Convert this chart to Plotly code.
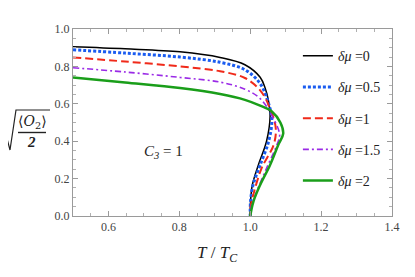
import plotly.graph_objects as go

# ---- data ----
T_mu0 = [0.50, 0.647, 0.802, 0.915, 0.985, 1.028, 1.042, 1.051, 1.056, 1.046, 1.023, 1.006, 1.001, 1.000]
y_mu0 = [0.905, 0.894, 0.878, 0.848, 0.809, 0.742, 0.685, 0.621, 0.532, 0.40, 0.273, 0.166, 0.08, 0.0]

T_mu05 = [0.50, 0.647, 0.802, 0.915, 0.985, 1.028, 1.052, 1.061, 1.052, 1.028, 1.008, 1.001, 1.000]
y_mu05 = [0.889, 0.871, 0.850, 0.822, 0.782, 0.708, 0.60, 0.514, 0.40, 0.273, 0.166, 0.08, 0.0]

T_mu1 = [0.50, 0.647, 0.802, 0.915, 0.985, 1.028, 1.055, 1.072, 1.066, 1.032, 1.011, 1.002, 1.000]
y_mu1 = [0.848, 0.826, 0.800, 0.774, 0.738, 0.672, 0.58, 0.47, 0.38, 0.255, 0.13, 0.06, 0.0]

T_mu15 = [0.50, 0.647, 0.802, 0.915, 0.985, 1.028, 1.060, 1.083, 1.075, 1.046, 1.018, 1.003, 1.000]
y_mu15 = [0.793, 0.770, 0.741, 0.716, 0.678, 0.628, 0.54, 0.434, 0.38, 0.255, 0.13, 0.05, 0.0]

T_mu2 = [0.50, 0.647, 0.802, 0.915, 0.985, 1.028, 1.061, 1.085, 1.093, 1.079, 1.056, 1.028, 1.009, 1.000]
y_mu2 = [0.741, 0.714, 0.684, 0.652, 0.621, 0.590, 0.559, 0.50, 0.44, 0.38, 0.273, 0.166, 0.077, 0.0]

labels = ["<i>δμ</i> =0", "<i>δμ</i> =0.5", "<i>δμ</i> =1", "<i>δμ</i> =1.5", "<i>δμ</i> =2"]
x_ticks = [0.6, 0.8, 1.0, 1.2, 1.4]
y_ticks = [0.0, 0.2, 0.4, 0.6, 0.8, 1.0]

series = [(T_mu0, y_mu0), (T_mu05, y_mu05), (T_mu1, y_mu1), (T_mu15, y_mu15), (T_mu2, y_mu2)]
styles = [
    dict(color="black", width=1.5, dash="solid"),
    dict(color="#1a5cf0", width=3, dash="3px,2px"),
    dict(color="#f02a1a", width=2, dash="8px,4px"),
    dict(color="#9a2ae6", width=1.6, dash="6px,3px,2px,3px"),
    dict(color="#1a9e1a", width=2.5, dash="solid"),
]

# the page body has an 8px margin: shift everything up/left by 8px
OFF = 8
W, H = 415 - OFF, 277 - OFF
L, R, Tm, B = 73 - OFF, 23, 29 - OFF, 61
pw, ph = W - L - R, H - Tm - B


def px2paper(px, py):
    # px, py are coordinates in the 415x277 reference picture
    return (px - OFF - L) / pw, (H - B - (py - OFF)) / ph


SERIF = "Liberation Serif, Times New Roman, serif"

fig = go.Figure()
for i, ((xs, ys), st, lab) in enumerate(zip(series, styles, labels)):
    fig.add_trace(go.Scatter(
        x=xs, y=ys, mode="lines", name=lab,
        line=dict(color=st["color"], width=st["width"], dash=st["dash"], shape="spline", smoothing=1.0),
        legendgroup=str(i),
    ))

axis_common = dict(
    showline=True, linecolor="#9a9a9a", linewidth=1, mirror="ticks",
    ticks="inside", ticklen=5, tickcolor="#9a9a9a", tickwidth=1,
    showgrid=False, zeroline=False,
    tickfont=dict(family=SERIF, size=12, color="#444"),
    minor=dict(ticks="inside", ticklen=3, tickcolor="#b0b0b0", dtick=0.05, showgrid=False),
    tickformat=".1f",
)

fig.update_layout(
    width=W, height=H,
    margin=dict(l=L, r=R, t=Tm, b=B),
    paper_bgcolor="white", plot_bgcolor="white",
    font=dict(family=SERIF, size=13, color="#222"),
    xaxis=dict(range=[0.5, 1.4], tickvals=x_ticks, **axis_common),
    yaxis=dict(range=[0, 1], tickvals=y_ticks, **axis_common),
    legend=dict(x=0.705, y=0.94, xanchor="left", yanchor="top", bgcolor="rgba(0,0,0,0)",
                tracegroupgap=10, font=dict(family=SERIF, size=14, color="#222"),
                itemwidth=30),
    showlegend=True,
)

# x-axis title
fig.add_annotation(text="<i>T</i> / <i>T<sub>C</sub></i>", xref="paper", yref="paper",
                   x=px2paper(217, 0)[0], y=px2paper(0, 254)[1], showarrow=False,
                   xanchor="center", yanchor="middle",
                   font=dict(family=SERIF, size=17, color="#222"))

# C3 = 1 label
fig.add_annotation(text="<i>C<sub>3</sub></i> = 1", xref="paper", yref="paper",
                   x=px2paper(163, 0)[0], y=px2paper(0, 152)[1], showarrow=False,
                   xanchor="center", yanchor="middle",
                   font=dict(family=SERIF, size=15, color="#222"))

# y-axis title: sqrt(<O2>/2) built from text + shapes
fig.add_annotation(text="⟨<i>O</i><sub>2</sub>⟩", xref="paper", yref="paper",
                   x=px2paper(32, 0)[0], y=px2paper(0, 122)[1], showarrow=False,
                   xanchor="center", yanchor="middle",
                   font=dict(family="DejaVu Serif", size=14, color="#222"))
fig.add_annotation(text="<b><i>2</i></b>", xref="paper", yref="paper",
                   x=px2paper(31, 0)[0], y=px2paper(0, 142)[1], showarrow=False,
                   xanchor="center", yanchor="middle",
                   font=dict(family=SERIF, size=15, color="#222"))

pts = [(2, 134), (5, 131), (10, 150), (16, 110), (50, 110)]
path = "M " + " L ".join(f"{px2paper(a, b)[0]:.4f},{px2paper(a, b)[1]:.4f}" for a, b in pts)
fig.add_shape(type="path", path=path, xref="paper", yref="paper",
              line=dict(color="#222", width=1.2))
x0, y0 = px2paper(18, 132.5)
x1, _ = px2paper(46, 132.5)
fig.add_shape(type="line", x0=x0, x1=x1, y0=y0, y1=y0, xref="paper", yref="paper",
              line=dict(color="#222", width=1.4))

fig.write_html("out.html")
